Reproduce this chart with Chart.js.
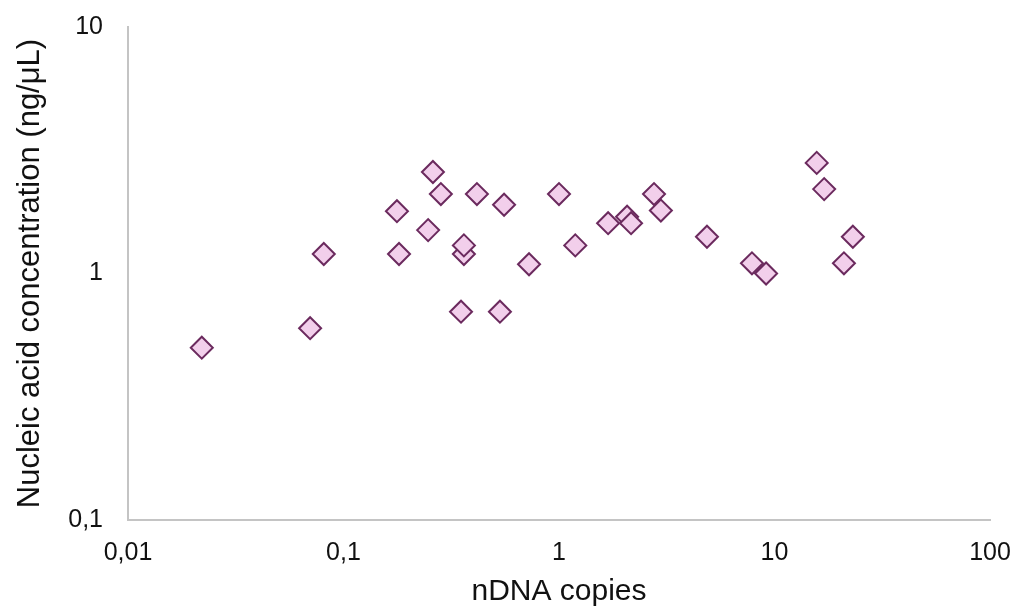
<!DOCTYPE html>
<html>
<head>
<meta charset="utf-8">
<script src="https://cdn.jsdelivr.net/npm/chart.js@4"></script>
<style>
  html, body { margin: 0; padding: 0; background: #ffffff; }
  #wrap { width: 1017px; height: 610px; }
</style>
</head>
<body>
<div id="wrap"><canvas id="myChart" width="1017" height="610"></canvas></div>
<script>
// nDNA copies (x) and nucleic acid concentration (y)
const copies = [0.022, 0.070, 0.081, 0.177, 0.181, 0.247, 0.260, 0.283, 0.362, 0.362,
                0.351, 0.416, 0.556, 0.532, 0.726, 1.0, 1.19, 1.69, 2.07, 2.16,
                2.76, 2.97, 4.86, 7.86, 9.14, 15.7, 17.0, 23.1, 21.0];
const concentration = [0.50, 0.60, 1.20, 1.79, 1.20, 1.50, 2.58, 2.10, 1.20, 1.30,
                       0.70, 2.10, 1.90, 0.70, 1.09, 2.10, 1.30, 1.60, 1.70, 1.60,
                       2.10, 1.80, 1.41, 1.10, 1.00, 2.81, 2.20, 1.41, 1.10];
const xTicks = [0.01, 0.1, 1, 10, 100];
const yTicks = [0.1, 1, 10];

const font = "'Liberation Sans', Arial, Helvetica, sans-serif";

function formatComma(v) {
    return String(v).replace('.', ',');
}

const ctx = document.getElementById('myChart');
const myChart = new Chart(ctx, {
    type: 'scatter',
    data: {
        datasets: [{
            label: 'Nucleic acid',
            data: copies.map((c, i) => ({ x: c, y: concentration[i] })),
            pointStyle: 'rectRot',
            pointRadius: 11,
            pointHoverRadius: 11,
            borderWidth: 2,
            backgroundColor: '#f2cfeb',
            borderColor: '#6b2a5e',
        }],
    },
    options: {
        responsive: false,
        animation: false,
        layout: { padding: { left: 0, right: 27, top: 27, bottom: 0 } },
        plugins: {
            legend: { display: false },
            tooltip: { enabled: false },
        },
        scales: {
            x: {
                type: 'logarithmic',
                min: 0.01,
                max: 100,
                afterBuildTicks: (scale) => { scale.ticks = xTicks.map(v => ({ value: v })); },
                afterFit: (scale) => {
                    scale.height = 90;
                    scale.paddingLeft = 0;
                    scale.paddingRight = 0;
                },
                grid: { display: false, drawTicks: false },
                border: { display: true, color: '#c4c4c4', width: 2 },
                ticks: {
                    color: '#111111',
                    font: { family: font, size: 25 },
                    padding: 18,
                    maxRotation: 0,
                    autoSkip: false,
                    callback: (v) => formatComma(v),
                },
                title: {
                    display: true,
                    text: 'nDNA copies',
                    color: '#111111',
                    font: { family: font, size: 30 },
                    padding: { top: 0, bottom: 0 },
                },
            },
            y: {
                type: 'logarithmic',
                min: 0.1,
                max: 10,
                afterBuildTicks: (scale) => { scale.ticks = yTicks.map(v => ({ value: v })); },
                afterFit: (scale) => {
                    scale.width = 128;
                    scale.paddingTop = 0;
                    scale.paddingBottom = 0;
                },
                grid: { display: false, drawTicks: false },
                border: { display: true, color: '#c4c4c4', width: 2 },
                ticks: {
                    color: '#111111',
                    font: { family: font, size: 25 },
                    padding: 25,
                    autoSkip: false,
                    callback: (v) => formatComma(v),
                },
                title: {
                    display: true,
                    text: 'Nucleic acid concentration (ng/μL)',
                    color: '#111111',
                    font: { family: font, size: 31 },
                    padding: { top: 12, bottom: 0 },
                },
            },
        },
    },
});
</script>
</body>
</html>
